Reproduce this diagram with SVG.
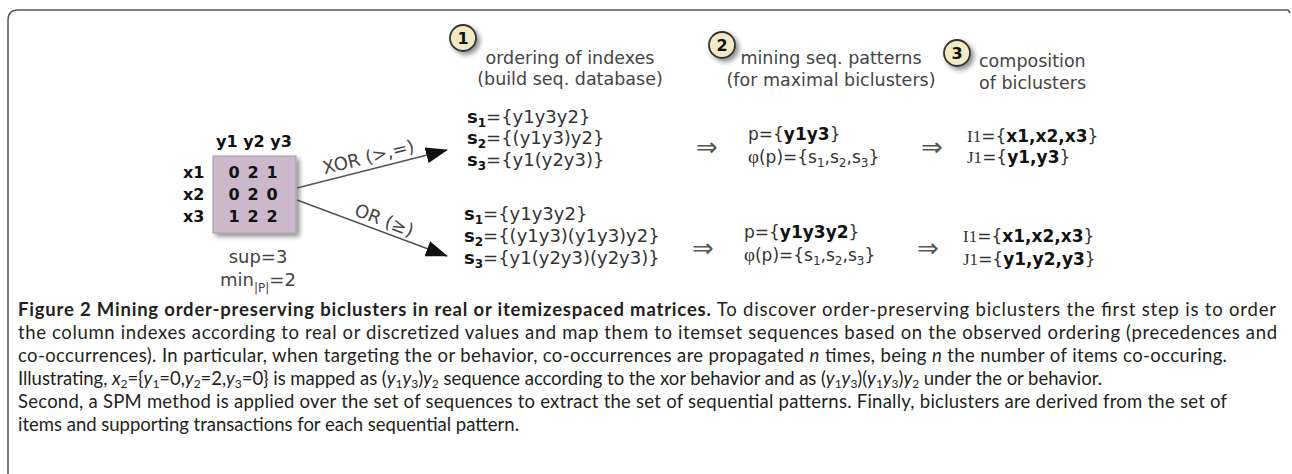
<svg xmlns="http://www.w3.org/2000/svg" width="1292" height="474" viewBox="0 0 1292 474">
<style>
.frame{fill:none;stroke:#555;stroke-width:1.5}
.hdr{font-family:"DejaVu Sans",Verdana,sans-serif;font-size:17.5px;fill:#444}
.ctr{text-anchor:middle}
.seq{font-family:"DejaVu Sans",Verdana,sans-serif;font-size:18px;fill:#333}
.pat{font-family:"DejaVu Sans",Verdana,sans-serif;font-size:17px;fill:#333}
.b{font-weight:bold;fill:#111}
.ser{font-family:"Liberation Serif",serif}
.arr{font-family:"DejaVu Sans",sans-serif;font-size:26px;fill:#555}
.mat{font-family:"DejaVu Sans",Verdana,sans-serif;font-size:16px;font-weight:bold;fill:#111}
.lbl{font-family:"DejaVu Sans",Verdana,sans-serif;font-size:18px;fill:#444}
.cap{font-family:Lato,"Open Sans",sans-serif;font-size:18.5px;fill:#231f20}
.conn{stroke:#555;stroke-width:1.6;fill:none}
.circ{fill:#f3e9c4;stroke:#333;stroke-width:1.8}
.num{font-family:"DejaVu Sans",sans-serif;font-size:16px;font-weight:bold;fill:#111;text-anchor:middle}
</style>
<defs>
<marker id="ah" markerWidth="22" markerHeight="16" refX="21" refY="8" orient="auto" markerUnits="userSpaceOnUse">
<path d="M0,0 L22,8 L0,16 Z" fill="#111"/>
</marker>
<filter id="sh" x="-20%" y="-20%" width="150%" height="150%">
<feGaussianBlur in="SourceAlpha" stdDeviation="2.5"/>
<feOffset dx="3" dy="3"/>
<feComponentTransfer><feFuncA type="linear" slope="0.45"/></feComponentTransfer>
<feMerge><feMergeNode/><feMergeNode in="SourceGraphic"/></feMerge>
</filter>
</defs>
<rect width="1292" height="474" fill="#fff"/>
<path class="frame" d="M8,474 V20 Q8,10 18,10 H1288 L1290,13"/>

<g id="matrix">
<rect x="213" y="156" width="83" height="77" fill="#cbb9cb" stroke="#a898a8" filter="url(#sh)"/>
<text class="mat" x="216" y="147">y1 y2 y3</text>
<text class="mat" x="183" y="178">x1</text>
<text class="mat" x="183" y="200">x2</text>
<text class="mat" x="183" y="222">x3</text>
<text class="mat" text-anchor="middle" font-size="17"><tspan x="234" y="178">0</tspan><tspan x="253" y="178">2</tspan><tspan x="272" y="178">1</tspan><tspan x="234" y="200">0</tspan><tspan x="253" y="200">2</tspan><tspan x="272" y="200">0</tspan><tspan x="234" y="222">1</tspan><tspan x="253" y="222">2</tspan><tspan x="272" y="222">2</tspan></text>
<text class="lbl" x="258" y="263" text-anchor="middle">sup=3</text>
<text class="lbl" x="258" y="286" text-anchor="middle">min<tspan font-size="12" dy="6">|P|</tspan><tspan dy="-6">=2</tspan></text>
</g>

<g id="connectors">
<line class="conn" x1="297" y1="188" x2="447" y2="150" marker-end="url(#ah)"/>
<line class="conn" x1="297" y1="200" x2="447" y2="256" marker-end="url(#ah)"/>
<text class="lbl" x="370" y="163" text-anchor="middle" transform="rotate(-14 370 163)">XOR (&gt;,=)</text>
<text class="lbl" x="382" y="226" text-anchor="middle" transform="rotate(21 382 226)">OR (≥)</text>
</g>

<g id="step1">
<circle class="circ" cx="463" cy="38" r="13" filter="url(#sh)"/>
<text class="num" x="463" y="44">1</text>
<text class="hdr ctr" x="570" y="64">ordering of indexes</text>
<text class="hdr ctr" x="570" y="85">(build seq. database)</text>
</g>
<g id="step2">
<circle class="circ" cx="722" cy="45" r="13" filter="url(#sh)"/>
<text class="num" x="722" y="51">2</text>
<text class="hdr ctr" x="831" y="64">mining seq. patterns</text>
<text class="hdr ctr" x="831" y="86">(for maximal biclusters)</text>
</g>
<g id="step3">
<circle class="circ" cx="957" cy="53" r="13" filter="url(#sh)"/>
<text class="num" x="957" y="59">3</text>
<text class="hdr" x="979" y="67">composition</text>
<text class="hdr" x="979" y="89">of biclusters</text>
</g>

<g id="xor-sequences">
<text class="seq" x="467" y="123"><tspan class="b">s</tspan><tspan class="b" font-size="12" dy="4">1</tspan><tspan dy="-4">={y1y3y2}</tspan></text>
<text class="seq" x="467" y="144"><tspan class="b">s</tspan><tspan class="b" font-size="12" dy="4">2</tspan><tspan dy="-4">={(y1y3)y2}</tspan></text>
<text class="seq" x="467" y="166"><tspan class="b">s</tspan><tspan class="b" font-size="12" dy="4">3</tspan><tspan dy="-4">={y1(y2y3)}</tspan></text>
</g>
<g id="or-sequences">
<text class="seq" x="464" y="220"><tspan class="b">s</tspan><tspan class="b" font-size="12" dy="4">1</tspan><tspan dy="-4">={y1y3y2}</tspan></text>
<text class="seq" x="464" y="242"><tspan class="b">s</tspan><tspan class="b" font-size="12" dy="4">2</tspan><tspan dy="-4">={(y1y3)(y1y3)y2}</tspan></text>
<text class="seq" x="464" y="264"><tspan class="b">s</tspan><tspan class="b" font-size="12" dy="4">3</tspan><tspan dy="-4">={y1(y2y3)(y2y3)}</tspan></text>
</g>

<g id="implies">
<text class="arr" x="707" y="156" text-anchor="middle">⇒</text>
<text class="arr" x="932" y="156" text-anchor="middle">⇒</text>
<text class="arr" x="703" y="257" text-anchor="middle">⇒</text>
<text class="arr" x="928" y="257" text-anchor="middle">⇒</text>
</g>

<g id="xor-pattern">
<text class="pat" x="748" y="140">p={<tspan class="b">y1y3</tspan>}</text>
<text class="pat" x="748" y="163"><tspan class="ser" font-size="19">φ</tspan>(p)={s<tspan font-size="12" dy="4">1</tspan><tspan dy="-4">,s</tspan><tspan font-size="12" dy="4">2</tspan><tspan dy="-4">,s</tspan><tspan font-size="12" dy="4">3</tspan><tspan dy="-4">}</tspan></text>
</g>
<g id="or-pattern">
<text class="pat" x="744" y="238">p={<tspan class="b">y1y3y2</tspan>}</text>
<text class="pat" x="744" y="261"><tspan class="ser" font-size="19">φ</tspan>(p)={s<tspan font-size="12" dy="4">1</tspan><tspan dy="-4">,s</tspan><tspan font-size="12" dy="4">2</tspan><tspan dy="-4">,s</tspan><tspan font-size="12" dy="4">3</tspan><tspan dy="-4">}</tspan></text>
</g>

<g id="xor-bicluster">
<text class="pat" x="967" y="142"><tspan class="ser">I1</tspan>={<tspan class="b">x1,x2,x3</tspan>}</text>
<text class="pat" x="967" y="163"><tspan class="ser">J1</tspan>={<tspan class="b">y1,y3</tspan>}</text>
</g>
<g id="or-bicluster">
<text class="pat" x="963" y="242"><tspan class="ser">I1</tspan>={<tspan class="b">x1,x2,x3</tspan>}</text>
<text class="pat" x="963" y="265"><tspan class="ser">J1</tspan>={<tspan class="b">y1,y2,y3</tspan>}</text>
</g>

<g id="caption">
<text class="cap" x="18" y="316" textLength="1258" lengthAdjust="spacing"><tspan font-weight="bold">Figure 2 Mining order-preserving biclusters in real or itemizespaced matrices.</tspan> To discover order-preserving biclusters the first step is to order</text>
<text class="cap" x="18" y="339" textLength="1259" lengthAdjust="spacing">the column indexes according to real or discretized values and map them to itemset sequences based on the observed ordering (precedences and</text>
<text class="cap" x="18" y="362" textLength="1209" lengthAdjust="spacing">co-occurrences). In particular, when targeting the or behavior, co-occurrences are propagated <tspan font-style="italic">n</tspan> times, being <tspan font-style="italic">n</tspan> the number of items co-occuring.</text>
<text class="cap" x="18" y="385" textLength="1084" lengthAdjust="spacing">Illustrating, <tspan font-style="italic">x</tspan><tspan font-size="12" dy="3">2</tspan><tspan dy="-3">={</tspan><tspan font-style="italic">y</tspan><tspan font-size="12" dy="3">1</tspan><tspan dy="-3">=0,</tspan><tspan font-style="italic">y</tspan><tspan font-size="12" dy="3">2</tspan><tspan dy="-3">=2,</tspan><tspan font-style="italic">y</tspan><tspan font-size="12" dy="3">3</tspan><tspan dy="-3">=0} is mapped as (</tspan><tspan font-style="italic">y</tspan><tspan font-size="12" dy="3">1</tspan><tspan dy="-3" font-style="italic">y</tspan><tspan font-size="12" dy="3">3</tspan><tspan dy="-3">)</tspan><tspan font-style="italic">y</tspan><tspan font-size="12" dy="3">2</tspan><tspan dy="-3"> sequence according to the xor behavior and as (</tspan><tspan font-style="italic">y</tspan><tspan font-size="12" dy="3">1</tspan><tspan dy="-3" font-style="italic">y</tspan><tspan font-size="12" dy="3">3</tspan><tspan dy="-3">)(</tspan><tspan font-style="italic">y</tspan><tspan font-size="12" dy="3">1</tspan><tspan dy="-3" font-style="italic">y</tspan><tspan font-size="12" dy="3">3</tspan><tspan dy="-3">)</tspan><tspan font-style="italic">y</tspan><tspan font-size="12" dy="3">2</tspan><tspan dy="-3"> under the or behavior.</tspan></text>
<text class="cap" x="18" y="408" textLength="1209" lengthAdjust="spacing">Second, a SPM method is applied over the set of sequences to extract the set of sequential patterns. Finally, biclusters are derived from the set of</text>
<text class="cap" x="18" y="431" textLength="501" lengthAdjust="spacing">items and supporting transactions for each sequential pattern.</text>
</g>
</svg>
